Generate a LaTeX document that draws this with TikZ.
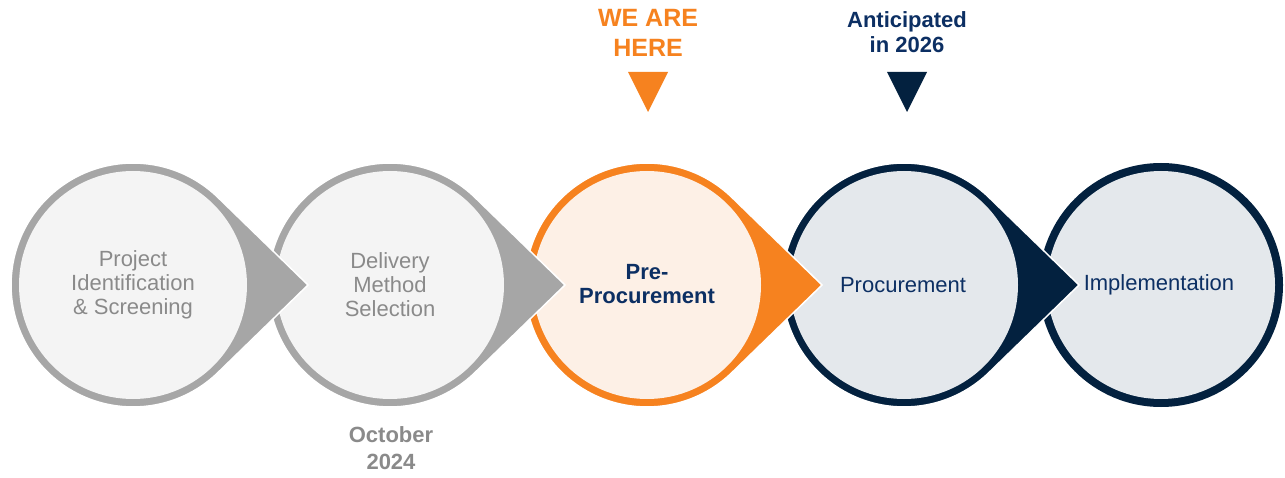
\documentclass[tikz,border=0pt]{standalone}
\usepackage{fontspec}
\setmainfont{Liberation Sans}
\definecolor{ringgray}{HTML}{A6A6A6}
\definecolor{fillgray}{HTML}{F4F4F4}
\definecolor{textgray}{HTML}{8A8A8A}
\definecolor{ringorange}{HTML}{F6821F}
\definecolor{fillorange}{HTML}{FDF0E6}
\definecolor{ringnavy}{HTML}{03213F}
\definecolor{fillnavy}{HTML}{E4E8EC}
\definecolor{textnavy}{HTML}{0C2F63}
\newcommand{\teardrop}[3]{%
  \fill[#2, draw=white, line width=1.5pt] (#1+175,192) -- ([shift={(#1,192)}]46.26:122) arc[start angle=46.26, end angle=313.74, radius=122] -- cycle;
  \fill[#3] (#1,192) circle[radius=114];
}
\begin{document}
\begin{tikzpicture}[x=1pt,y=1pt,
  stagetext/.style={align=center, font=\fontsize{22}{24}\selectfont, inner sep=0pt},
  toptext/.style={align=center, font=\bfseries\fontsize{22}{25}\selectfont, inner sep=0pt}]
\useasboundingbox (0,0) rectangle (1285,477);
\fill[white] (0,0) rectangle (1285,477);
% last stage: plain ring, no arrow
\fill[ringnavy] (1161,192) circle[radius=122];
\fill[fillnavy] (1161,192) circle[radius=114];
% stages drawn right to left so each arrow overlaps the next circle
\teardrop{904}{ringnavy}{fillnavy}
\teardrop{647}{ringorange}{fillorange}
\teardrop{390}{ringgray}{fillgray}
\teardrop{133}{ringgray}{fillgray}
\node[stagetext, text=textgray] (s1) at (133,192) {Project\\Identification\\\& Screening};
\node[stagetext, text=textgray] (s2) at (390,192) {Delivery\\Method\\Selection};
\node[stagetext, text=textnavy, font=\bfseries\fontsize{22}{24}\selectfont] (s3) at (647,193) {Pre-\\Procurement};
\node[stagetext, text=textnavy] (s4) at (903,192) {Procurement};
\node[stagetext, text=textnavy] (s5) at (1159,192) {Implementation};
% top labels
\node[toptext, text=ringorange, font=\bfseries\fontsize{25}{30}\selectfont] (here) at (648,444) {WE ARE\\HERE};
\node[toptext, text=textnavy] (ant) at (907,445) {Anticipated\\in 2026};
\fill[ringorange] (628,405) -- (668,405) -- (648,365) -- cycle;
\fill[ringnavy] (887,405) -- (927,405) -- (907,365) -- cycle;
% bottom label
\node[toptext, text=textgray, font=\bfseries\fontsize{22}{27}\selectfont] (oct) at (391,28.5) {October\\2024};
\end{tikzpicture}
\end{document}
